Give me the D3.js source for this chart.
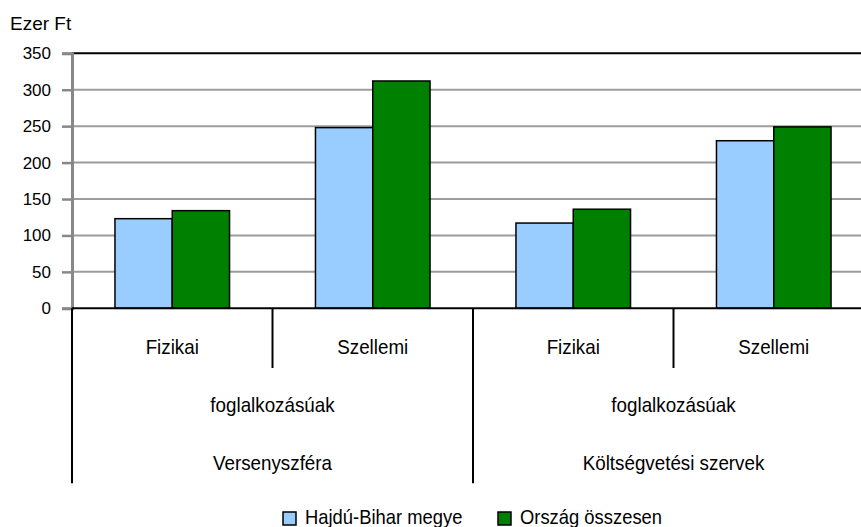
<!DOCTYPE html>
<html>
<head>
<meta charset="utf-8">
<script src="https://cdn.jsdelivr.net/npm/d3@7"></script>
<style>
  body { margin: 0; background: #ffffff; }
  svg { display: block; font-family: "Liberation Sans", Arial, sans-serif; }
</style>
</head>
<body>
<svg id="chart"></svg>
<script>
// data
const categories = ["Fizikai", "Szellemi", "Fizikai", "Szellemi"];
const middleLabels = ["foglalkozásúak", "foglalkozásúak"];
const sectorLabels = ["Versenyszféra", "Költségvetési szervek"];
const seriesNames = ["Hajdú-Bihar megye", "Ország összesen"];
const hajduBihar = [123, 248, 117, 230];
const orszag = [134, 312, 136, 249];
const yTicks = [0, 50, 100, 150, 200, 250, 300, 350];
const yTitle = "Ezer Ft";

const seriesColors = ["#99ccff", "#008000"];

const width = 861, height = 527;
const plot = { left: 72, top: 53.3, bottom: 308.3, catWidth: 200.5 };

const svg = d3.select("#chart")
  .attr("width", width)
  .attr("height", height);

const x = d3.scaleBand()
  .domain(d3.range(categories.length))
  .range([plot.left, plot.left + plot.catWidth * categories.length])
  .padding(0);

const xInner = d3.scaleBand()
  .domain(d3.range(seriesNames.length))
  .range([0, x.bandwidth()])
  .paddingInner(0)
  .paddingOuter(0.75);

const y = d3.scaleLinear()
  .domain([0, 350])
  .range([plot.bottom, plot.top]);

const plotRight = x.range()[1];

// gridlines
svg.append("g")
  .selectAll("line")
  .data(yTicks.filter(t => t > 0 && t < 350))
  .join("line")
  .attr("x1", plot.left)
  .attr("x2", plotRight)
  .attr("y1", d => y(d))
  .attr("y2", d => y(d))
  .attr("stroke", "#9c9c9c")
  .attr("stroke-width", 2);

// top border
svg.append("line")
  .attr("x1", plot.left).attr("x2", plotRight)
  .attr("y1", y(350)).attr("y2", y(350))
  .attr("stroke", "#000").attr("stroke-width", 2);

// bars
const rows = categories.map((c, i) => [hajduBihar[i], orszag[i]]);
svg.append("g")
  .selectAll("g")
  .data(rows)
  .join("g")
  .attr("transform", (d, i) => `translate(${x(i)},0)`)
  .selectAll("rect")
  .data(d => d)
  .join("rect")
  .attr("x", (d, j) => xInner(j))
  .attr("y", d => y(d))
  .attr("width", xInner.bandwidth())
  .attr("height", d => y(0) - y(d))
  .attr("fill", (d, j) => seriesColors[j])
  .attr("stroke", "#000")
  .attr("stroke-width", 1.5);

// y axis
const yAxis = svg.append("g")
  .attr("transform", `translate(${plot.left},0)`)
  .call(d3.axisLeft(y).tickValues(yTicks).tickSize(10).tickPadding(11).tickFormat(d3.format("d")));
yAxis.select(".domain").attr("stroke", "#888").attr("stroke-width", 3);
yAxis.selectAll(".tick line").attr("stroke", "#888").attr("stroke-width", 2.5);
yAxis.selectAll(".tick text")
  .attr("font-size", 17)
  .attr("font-family", "Liberation Sans, Arial, sans-serif")
  .attr("fill", "#000");

svg.append("text")
  .attr("x", 10)
  .attr("y", 30)
  .attr("font-size", 19)
  .text(yTitle);

// category axis (zero line + multilevel dividers)
svg.append("line")
  .attr("x1", plot.left).attr("x2", plotRight)
  .attr("y1", y(0)).attr("y2", y(0))
  .attr("stroke", "#000").attr("stroke-width", 2);

const dividerY = y(0);
svg.append("g")
  .selectAll("line")
  .data(d3.range(categories.length))
  .join("line")
  .attr("x1", i => x(i))
  .attr("x2", i => x(i))
  .attr("y1", dividerY)
  .attr("y2", i => (i % 2 === 0 ? 483.3 : 368))
  .attr("stroke", "#000")
  .attr("stroke-width", 2);

const labelText = (sel, cx, cy, txt) =>
  sel.append("text")
    .attr("transform", `translate(${cx},${cy}) scale(0.94,1)`)
    .attr("text-anchor", "middle")
    .attr("font-size", 20)
    .text(txt);

categories.forEach((c, i) => labelText(svg, x(i) + x.bandwidth() / 2, 354, c));
middleLabels.forEach((c, k) => labelText(svg, x(k * 2) + x.bandwidth(), 411.7, c));
sectorLabels.forEach((c, k) => labelText(svg, x(k * 2) + x.bandwidth(), 470, c));

// legend
const legendX = [283, 498];
const legend = svg.append("g")
  .selectAll("g")
  .data(seriesNames)
  .join("g")
  .attr("transform", (d, i) => `translate(${legendX[i]},512)`);
legend.append("rect")
  .attr("width", 13)
  .attr("height", 13)
  .attr("fill", (d, i) => seriesColors[i])
  .attr("stroke", "#000")
  .attr("stroke-width", 1.5);
legend.append("text")
  .attr("transform", "translate(22,11.5) scale(0.92,1)")
  .attr("font-size", 20)
  .text(d => d);
</script>
</body>
</html>
